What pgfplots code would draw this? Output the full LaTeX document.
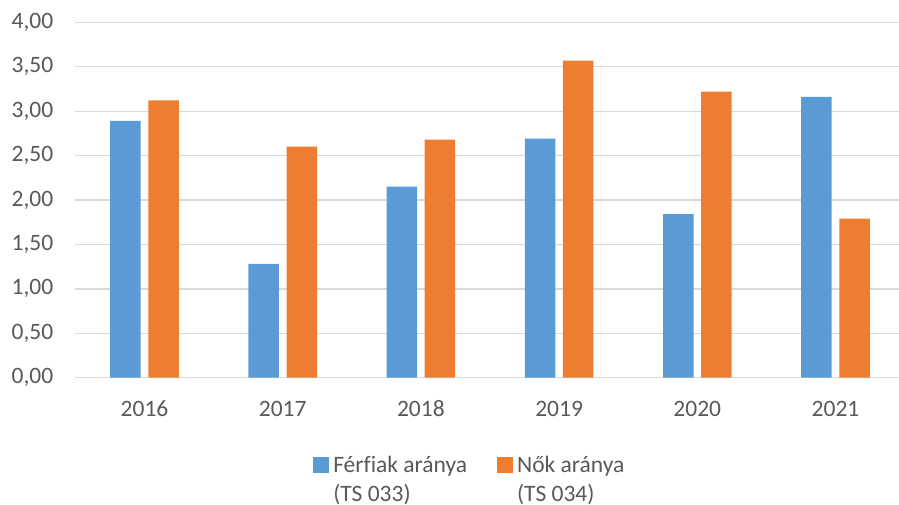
\documentclass[border=0pt]{standalone}
\usepackage{pgfplots}
\pgfplotsset{compat=1.18}
\usepackage{fontspec}
\setmainfont{Carlito}[Ligatures=NoCommon]
\definecolor{xblue}{HTML}{5B9BD5}
\definecolor{xorange}{HTML}{ED7D31}
\definecolor{xtext}{HTML}{595959}
\definecolor{xgrid}{HTML}{D9D9D9}

\begin{document}
\begin{tikzpicture}
\useasboundingbox (0,0) rectangle (899pt,504pt);
\begin{axis}[
  at={(75.4pt,126.3pt)}, anchor=south west,
  scale only axis, width=829.2pt, height=355.4pt,
  ybar=7.6pt, bar width=30.5pt,
  xmin=-0.5, xmax=5.5, ymin=0, ymax=4,
  xtick={0,...,5}, xticklabels={2016,2017,2018,2019,2020,2021},
  ytick={0,0.5,...,4},
  yticklabel style={/pgf/number format/fixed, /pgf/number format/fixed zerofill,
    /pgf/number format/precision=2, /pgf/number format/use comma,
    /pgf/number format/assume math mode=true},
  font=\fontsize{23.5}{29}\selectfont, text=xtext,
  tick label style={inner sep=0pt},
  yticklabel style={xshift=-22pt},
  xticklabel style={yshift=-23pt},
  major tick length=0pt,
  axis line style={draw=none},
  ymajorgrids, grid style={xgrid, line width=1.3pt},
  legend columns=2,
  legend style={at={(0.283,-0.203)}, anchor=north west, draw=none,
    nodes={inner sep=0pt, anchor=base west},
    /tikz/every odd column/.append style={column sep=4pt},
    /tikz/every even column/.append style={column sep=30pt}},
  legend image code/.code={\fill[#1] (0pt,-1pt) rectangle (16pt,15pt);},
]
\addplot[fill=xblue, draw=none] coordinates
  {(0,2.89) (1,1.28) (2,2.15) (3,2.69) (4,1.84) (5,3.16)};
\addlegendentry{\begin{tabular}[t]{@{}l@{}}Férfiak aránya\\(TS 033)\end{tabular}}
\addplot[fill=xorange, draw=none] coordinates
  {(0,3.12) (1,2.60) (2,2.68) (3,3.57) (4,3.22) (5,1.79)};
\addlegendentry{\begin{tabular}[t]{@{}l@{}}Nők aránya\\(TS 034)\end{tabular}}
\end{axis}
\end{tikzpicture}
\end{document}
